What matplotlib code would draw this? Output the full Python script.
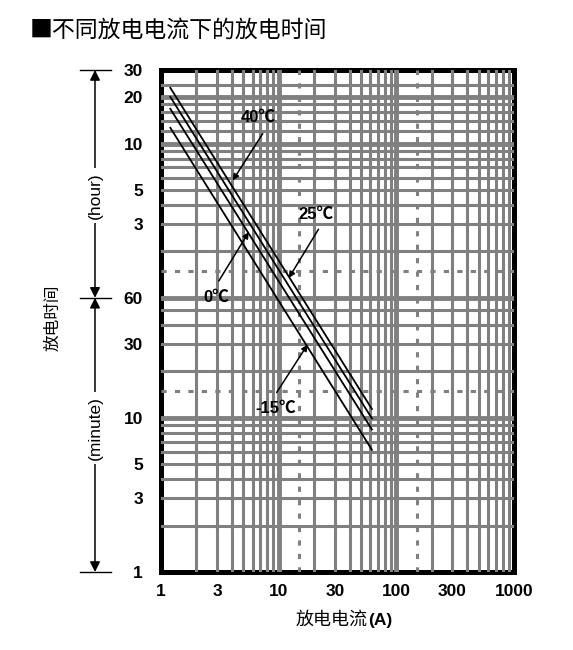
import matplotlib
matplotlib.use("Agg")
import matplotlib.pyplot as plt
import matplotlib.transforms as mtransforms
from matplotlib.lines import Line2D

# discharge current (A) at the two ends of each curve
current = [1.2, 62]
# discharge time in minutes at those currents
time_40 = [1380, 11.4]
time_25 = [1205, 9.9]
time_0 = [1008, 8.4]
time_m15 = [760, 6.2]

# y ticks are minutes on one log axis (top part labelled in hours)
ytick_vals = [1800, 1200, 600, 300, 180, 60, 30, 10, 5, 3, 1]
ytick_labels = ["30", "20", "10", "5", "3", "60", "30", "10", "5", "3", "1"]
xtick_vals = [1, 3, 10, 30, 100, 300, 1000]
xtick_labels = ["1", "3", "10", "30", "100", "300", "1000"]

# grid lines
x_grid = [2, 3, 4, 5, 6, 7, 8, 9, 20, 30, 40, 50, 60, 70, 80, 90,
          200, 300, 400, 500, 600, 700, 800, 900]
x_grid_thick = [10, 100]
x_grid_dash = [15, 150]
y_grid = [2, 3, 4, 5, 6, 7, 8, 9, 20, 30, 40, 50,
          120, 180, 240, 300, 360, 420, 480, 540, 720, 840, 960, 1080, 1440]
y_grid_thick = [10, 60, 600, 1200]
y_grid_dash = [15, 90]

CJK = ["Noto Sans CJK SC", "DejaVu Sans"]
NUM = ["Liberation Sans", "Noto Sans CJK SC", "DejaVu Sans"]
GRAY = "#808080"

fig = plt.figure(figsize=(5.73, 6.5), dpi=100)
ax = fig.add_axes([161 / 573, 1 - 572 / 650, 353 / 573, 502 / 650])
ax.set_xscale("log")
ax.set_yscale("log")
ax.set_xlim(1, 1000)
ax.set_ylim(1, 1800)

for v in x_grid:
    ax.axvline(v, color=GRAY, lw=2.2, zorder=2)
for v in x_grid_thick:
    ax.axvline(v, color=GRAY, lw=3.5, zorder=2)
for v in x_grid_dash:
    ax.axvline(v, color=GRAY, lw=2.2, zorder=2, dashes=(1.7, 2.7))
for v in y_grid:
    ax.axhline(v, color=GRAY, lw=2.2, zorder=2)
for v in y_grid_thick:
    ax.axhline(v, color=GRAY, lw=3.5, zorder=2)
for v in y_grid_dash:
    ax.axhline(v, color=GRAY, lw=2.2, zorder=2, dashes=(1.7, 2.7))

for t in (time_40, time_25, time_0, time_m15):
    ax.plot(current, t, color="black", lw=1.3, zorder=4)

for s in ax.spines.values():
    s.set_linewidth(3.6)
    s.set_color("black")
    s.set_zorder(1)

ax.minorticks_off()
ax.set_xticks(xtick_vals)
ax.set_xticklabels(xtick_labels)
ax.set_yticks(ytick_vals)
ax.set_yticklabels(ytick_labels)
ax.tick_params(length=0)
ax.tick_params(axis="y", pad=13)
ax.tick_params(axis="x", pad=9)
for lab in ax.get_xticklabels() + ax.get_yticklabels():
    lab.set_family(NUM)
    lab.set_fontweight("bold")
    lab.set_fontsize(12.5)

# temperature labels with arrows
arrow = dict(arrowstyle="-|>", color="black", lw=1.1, mutation_scale=9,
             shrinkA=0, shrinkB=0)
labels = [("40℃", (6.77, 883), (7.32, 696), (4.07, 346)),
          ("25℃", (20.6, 209), (21.8, 167), (12.2, 80.7)),
          ("0℃", (2.92, 60), (3.10, 77.2), (5.57, 160)),
          ("-15℃", (9.43, 11.5), (9.62, 14.6), (17.6, 29.8))]
for txt, pos, tail, tip in labels:
    ax.annotate("", xy=tip, xytext=tail, arrowprops=arrow, zorder=5)
    ax.text(pos[0], pos[1], txt, family=NUM, fontweight="bold", fontsize=12,
            ha="center", va="center", zorder=5)

# hour / minute bracket on the left
trans = mtransforms.blended_transform_factory(fig.transFigure, ax.transData)
xa = 95 / 573
head = dict(arrowstyle="<|-|>", color="black", lw=1.1, mutation_scale=15,
            shrinkA=0, shrinkB=0)
ax.annotate("", xy=(xa, 1800), xytext=(xa, 60), xycoords=trans,
            textcoords=trans, arrowprops=head, annotation_clip=False)
ax.annotate("", xy=(xa, 1), xytext=(xa, 60), xycoords=trans,
            textcoords=trans, arrowprops=head, annotation_clip=False)
for v in (1800, 60, 1):
    fig.add_artist(Line2D([80 / 573, 111 / 573], [v, v], transform=trans,
                          color="black", lw=1.0))
ax.text(xa, 275, "(hour)", transform=trans, rotation=90, ha="center",
        va="center", family=NUM, fontsize=12.5,
        bbox=dict(facecolor="white", edgecolor="none", pad=3))
ax.text(xa, 8.6, "(minute)", transform=trans, rotation=90, ha="center",
        va="center", family=NUM, fontsize=12.5,
        bbox=dict(facecolor="white", edgecolor="none", pad=3))

fig.text(53 / 573, 1 - 318 / 650, "放电时间", rotation=90, ha="center",
         va="center", family=CJK, fontsize=12)

fig.text(30 / 573, 1 - 30 / 650, "■不同放电电流下的放电时间", ha="left",
         va="center", family=CJK, fontsize=16.5)

fig.text(368 / 573, 1 - 620 / 650, "放电电流", ha="right", va="center",
         family=CJK, fontsize=13)
fig.text(368 / 573, 1 - 620 / 650, "(A)", ha="left", va="center",
         family=NUM, fontweight="bold", fontsize=12.5)

fig.savefig("out.png", dpi=100)
